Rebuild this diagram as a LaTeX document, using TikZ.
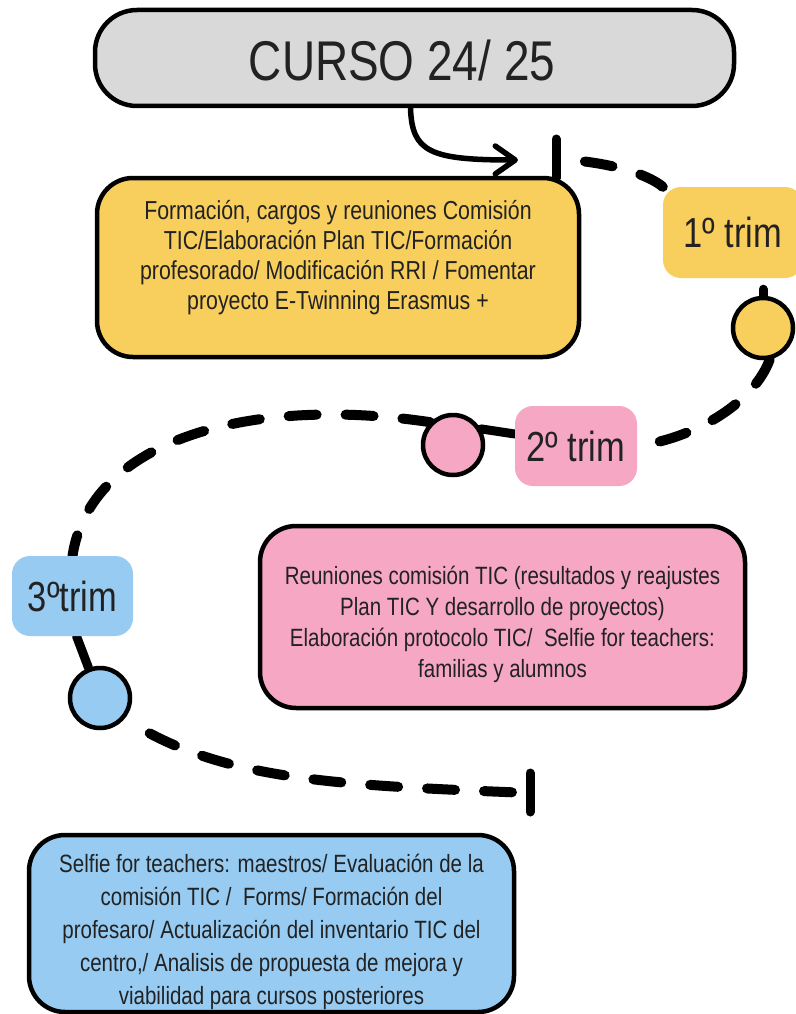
\documentclass[tikz,border=0pt]{standalone}
\usepackage{fontspec}
\setmainfont{Liberation Sans}[FakeStretch=0.82]
\usetikzlibrary{arrows.meta,calc}
\pgfdeclarelayer{background}
\pgfsetlayers{background,main}
\definecolor{cyellow}{HTML}{F8CE5D}
\definecolor{cpink}{HTML}{F5A7C3}
\definecolor{cblue}{HTML}{97CBF1}
\definecolor{cgray}{HTML}{D9D9D9}
\definecolor{ink}{HTML}{222222}
\begin{document}
\begin{tikzpicture}[x=1pt,y=-1pt,
  box/.style={draw=black, line width=4.5pt, rounded corners=36pt, inner sep=0pt},
  tag/.style={rounded corners=18pt, inner sep=0pt, text=ink, font=\fontsize{42}{46}\selectfont},
  dot/.style={circle, draw=black, line width=4.5pt, minimum size=60pt, inner sep=0pt},
  body/.style={align=center, text=ink, font=\fontsize{25}{31}\selectfont},
  dashline/.style={line width=10pt, line cap=round, dash pattern=on 28pt off 29pt},
  solidline/.style={line width=9pt, line cap=round},
  tickline/.style={line width=9pt, line cap=round},
  arrowline/.style={line width=5.5pt, line cap=round, -{Straight Barb[length=20pt,width=28pt,round]}}
]
\useasboundingbox (0,0) rectangle (795,1014);

% boxes
\node[box, fill=cgray, minimum width=639pt, minimum height=96pt, rounded corners=42pt] (title) at (414.5,58) {};
\node[text=ink, font=\fontsize{56}{60}\selectfont] (ttx) at (402,60) {CURSO 24/ 25};
\node[box, fill=cyellow, minimum width=482pt, minimum height=179pt] (yb) at (338,267.5) {};
\node[body, font=\fontsize{26}{30}\selectfont] (ytx) at ([yshift=10pt]yb.center)
  {Formación, cargos y reuniones Comisión\\ TIC/Elaboración Plan TIC/Formación\\
   profesorado/ Modificación RRI / Fomentar\\ proyecto E-Twinning Erasmus +};
\node[box, fill=cpink, minimum width=485pt, minimum height=182pt] (pb) at (502.5,617) {};
\node[body] (ptx) at ([yshift=-7pt]pb.center)
  {Reuniones comisión TIC (resultados y reajustes\\ Plan TIC Y desarrollo de proyectos)\\
   Elaboración protocolo TIC/\ \ Selfie for teachers:\\ familias y alumnos};
\node[box, fill=cblue, minimum width=485pt, minimum height=177pt] (bb) at (271.5,923.5) {};
\node[body, font=\fontsize{25}{33}\selectfont] (btx) at ([yshift=-8pt]bb.center)
  {Selfie for teachers: maestros/ Evaluación de la\\ comisión TIC /\ \ Forms/ Formación del\\
   profesaro/ Actualización del inventario TIC del\\ centro,/ Analisis de propuesta de mejora y\\
   viabilidad para cursos posteriores};

% trimester tags
\node[tag, fill=cyellow, minimum width=140pt, minimum height=91pt] (t1) at (733,232.5) {1º trim};
\node[tag, fill=cpink, minimum width=122pt, minimum height=80pt] (t2) at (576,446) {2º trim};
\node[tag, fill=cblue, minimum width=121pt, minimum height=80pt] (t3) at (72.5,596) {3ºtrim};

% circles
\node[dot, fill=cyellow] (yc) at (763,328) {};
\node[dot, fill=cpink] (pc) at (453,445) {};
\node[dot, fill=cblue] (bc) at (100,698) {};

% start / end marks
\coordinate (s1) at (556,159);
\coordinate (s2) at (530,793);
\coordinate (ae) at (518,160);
\draw[tickline] ([yshift=20pt]s1) -- ([yshift=-19pt]s1);
\draw[tickline] ([yshift=20pt]s2) -- ([yshift=-19pt]s2);

\begin{pgfonlayer}{background}
\draw[arrowline] ([xshift=-4pt]title.south) .. controls (412,152) and (430,160) .. (ae);
\draw[dashline, dash phase=28pt] (s1) .. controls (615,162) and (650,176) .. (t1.north west);
\draw[solidline] ($(yc |- t1.south)+(0,11)$) -- (yc.north);
\draw[dashline] (yc.-78) .. controls (755,400) and (700,437) .. (t2.east);
\draw[solidline] (pc.30) -- ([yshift=12pt]t2.west);
\draw[dashline] (pc.135) .. controls (250,395) and (90,440) .. (t3.north);
\draw[solidline] ([xshift=4pt]t3.south) -- (bc);
\draw[dashline, dash phase=28pt] (bc.-40) .. controls (220,780) and (330,785) .. (s2);
\end{pgfonlayer}
\end{tikzpicture}
\end{document}
